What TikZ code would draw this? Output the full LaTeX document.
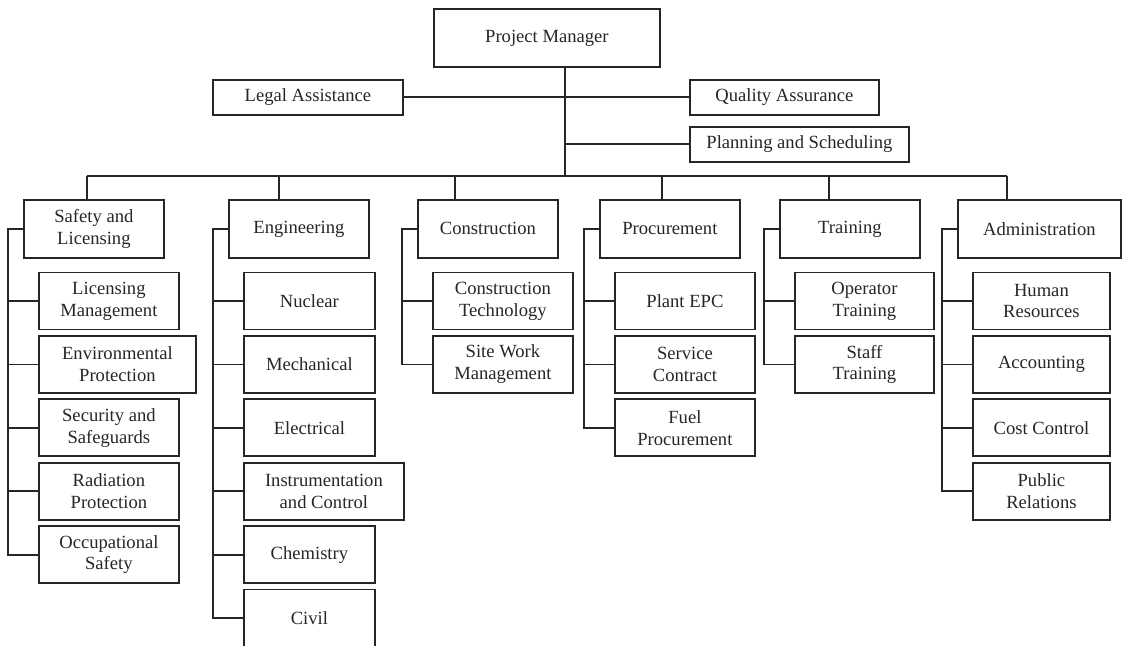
\documentclass[tikz,border=0pt]{standalone}
\usepackage{fontspec}
\setmainfont{Liberation Serif}
\usetikzlibrary{positioning}

\begin{document}
\begin{tikzpicture}[
    x=0.5pt, y=-0.5pt,
    font=\fontsize{9.3}{10.9}\selectfont,
    color=black!85,
    box/.style={draw, line width=0.9pt, inner sep=1pt, align=center},
    staff/.style={box, minimum height=17.5pt},
    dept/.style={box, minimum width=70pt, minimum height=29pt},
    unit/.style={box, minimum width=70pt, minimum height=28.5pt},
    link/.style={line width=0.9pt}
  ]
  \useasboundingbox (0,0) rectangle (1122,646);

  % ---- top of the chart ----
  \node[box, minimum width=113pt, minimum height=29pt, anchor=north west] (pm) at (433,8)
    {Project Manager};
  \node[staff, minimum width=95pt, anchor=north west] (legal) at (212,79) {Legal Assistance};
  \node[staff, minimum width=94.5pt, anchor=north west] (qa) at (689,79) {Quality Assurance};
  \node[staff, minimum width=109.5pt, below=5pt of qa.south west, anchor=north west] (plan)
    {Planning and Scheduling};

  \coordinate (hub) at (565,176);
  \draw[link] (pm.south -| hub) -- (hub);
  \draw[link] (legal.east) -- (qa.west);
  \draw[link] (plan.west) -- (plan.west -| hub);

  % ---- departments ----
  \node[dept, anchor=north west] (safety) at (23,199) {Safety and\\Licensing};
  \node[dept, anchor=north west] (eng) at (228,199) {Engineering};
  \node[dept, anchor=north west] (cons) at (417,199) {Construction};
  \node[dept, anchor=north west] (proc) at (599,199) {Procurement};
  \node[dept, anchor=north west] (train) at (779,199) {Training};
  \node[dept, minimum width=81.5pt, anchor=north west] (admin) at (957,199) {Administration};

  \foreach \x/\n in {87/safety, 279/eng, 455/cons, 662/proc, 829/train, 1007/admin} {
    \coordinate (d\n) at (\x,176);
    \draw[link] (d\n) -- (d\n |- \n.north);
  }
  \draw[link] (dsafety) -- (dadmin);

  % ---- safety and licensing ----
  \node[unit, below right=6.4pt and 7.5pt of safety.south west] (lic) {Licensing\\Management};
  \node[unit, minimum width=78.5pt, below=2.3pt of lic.south west, anchor=north west] (env)
    {Environmental\\Protection};
  \node[unit, below=2.3pt of env.south west, anchor=north west] (sec) {Security and\\Safeguards};
  \node[unit, below=2.3pt of sec.south west, anchor=north west] (rad) {Radiation\\Protection};
  \node[unit, below=2.3pt of rad.south west, anchor=north west] (occ) {Occupational\\Safety};
  \draw[link] (safety.west) -- ++(-7.5pt,0) |- (occ.west);
  \foreach \c in {lic,env,sec,rad} \draw[link] (\c.west) -- ++(-15pt,0);

  % ---- engineering ----
  \node[unit, minimum width=65.5pt, below right=6.4pt and 7.5pt of eng.south west] (nuc) {Nuclear};
  \node[unit, minimum width=65.5pt, below=2.3pt of nuc.south west, anchor=north west] (mech) {Mechanical};
  \node[unit, minimum width=65.5pt, below=2.3pt of mech.south west, anchor=north west] (elec) {Electrical};
  \node[unit, minimum width=80pt, below=2.3pt of elec.south west, anchor=north west] (ic)
    {Instrumentation\\and Control};
  \node[unit, minimum width=65.5pt, below=2.3pt of ic.south west, anchor=north west] (chem) {Chemistry};
  \node[unit, minimum width=65.5pt, below=2.3pt of chem.south west, anchor=north west] (civ) {Civil};
  \draw[link] (eng.west) -- ++(-7.5pt,0) |- (civ.west);
  \foreach \c in {nuc,mech,elec,ic,chem} \draw[link] (\c.west) -- ++(-15pt,0);

  % ---- construction ----
  \node[unit, below right=6.4pt and 7.5pt of cons.south west] (ctech) {Construction\\Technology};
  \node[unit, below=2.3pt of ctech.south west, anchor=north west] (site) {Site Work\\Management};
  \draw[link] (cons.west) -- ++(-7.5pt,0) |- (site.west);
  \draw[link] (ctech.west) -- ++(-15pt,0);

  % ---- procurement ----
  \node[unit, below right=6.4pt and 7.5pt of proc.south west] (epc) {Plant EPC};
  \node[unit, below=2.3pt of epc.south west, anchor=north west] (serv) {Service\\Contract};
  \node[unit, below=2.3pt of serv.south west, anchor=north west] (fuel) {Fuel\\Procurement};
  \draw[link] (proc.west) -- ++(-7.5pt,0) |- (fuel.west);
  \foreach \c in {epc,serv} \draw[link] (\c.west) -- ++(-15pt,0);

  % ---- training ----
  \node[unit, minimum width=69.5pt, below right=6.4pt and 7.5pt of train.south west] (optr)
    {Operator\\Training};
  \node[unit, minimum width=69.5pt, below=2.3pt of optr.south west, anchor=north west] (sttr)
    {Staff\\Training};
  \draw[link] (train.west) -- ++(-7.5pt,0) |- (sttr.west);
  \draw[link] (optr.west) -- ++(-15pt,0);

  % ---- administration ----
  \node[unit, minimum width=68.5pt, below right=6.4pt and 7.5pt of admin.south west] (hr)
    {Human\\Resources};
  \node[unit, minimum width=68.5pt, below=2.3pt of hr.south west, anchor=north west] (acc) {Accounting};
  \node[unit, minimum width=68.5pt, below=2.3pt of acc.south west, anchor=north west] (cost) {Cost Control};
  \node[unit, minimum width=68.5pt, below=2.3pt of cost.south west, anchor=north west] (pr)
    {Public\\Relations};
  \draw[link] (admin.west) -- ++(-7.5pt,0) |- (pr.west);
  \foreach \c in {hr,acc,cost} \draw[link] (\c.west) -- ++(-15pt,0);

\end{tikzpicture}
\end{document}
